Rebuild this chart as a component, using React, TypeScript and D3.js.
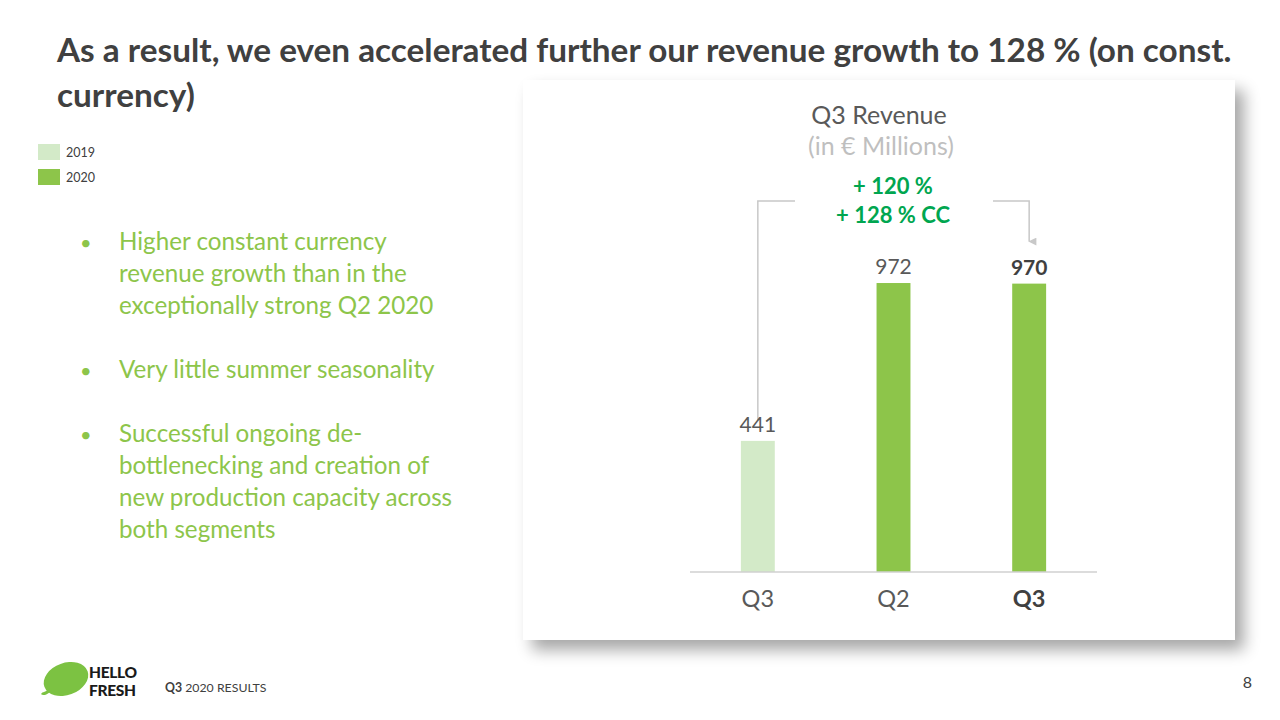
import React from "react";
import * as d3 from "d3";

const categories = ["Q3", "Q2", "Q3 "];
const years = ["2019", "2020", "2020"];
const values = [441, 972, 970];
const legendItems = ["2019", "2020"];
const bullets = [
  ["Higher constant currency", "revenue growth than in the", "exceptionally strong Q2 2020"],
  ["Very little summer seasonality"],
  ["Successful ongoing de-", "bottlenecking and creation of", "new production capacity across", "both segments"],
];
const growth = ["+ 120 %", "+ 128 % CC"];

const FONT = "Lato, 'Open Sans', sans-serif";
const colorFor: Record<string, string> = { "2019": "#d3eac8", "2020": "#8dc54a" };

export default function App() {
  const W = 1280, H = 720;
  const x = d3.scaleBand<string>().domain(categories).range([690, 1097]).paddingInner(0.75).paddingOuter(0.375);
  const y = d3.scaleLinear().domain([0, 1000]).range([572, 274.7]);
  const cx = (c: string) => (x(c) as number) + x.bandwidth() / 2;

  let ly = 250;
  const bulletLines: { text: string; y: number; bullet: boolean }[] = [];
  bullets.forEach((b) => {
    b.forEach((t, i) => {
      bulletLines.push({ text: t, y: ly, bullet: i === 0 });
      ly += 32;
    });
    ly += 32;
  });

  const bx1 = cx(categories[0]);
  const bx3 = cx(categories[2]);
  const bracketY = 201;

  return (
    <svg width={W} height={H} style={{ position: "absolute", left: 0, top: 0, background: "#fff" }} fontFamily={FONT}>
      <defs>
        <filter id="sh" x="-10%" y="-10%" width="130%" height="130%">
          <feGaussianBlur in="SourceAlpha" stdDeviation="8" />
          <feOffset dx="9" dy="10" result="b" />
          <feComponentTransfer><feFuncA type="linear" slope="0.35" /></feComponentTransfer>
          <feMerge><feMergeNode /><feMergeNode in="SourceGraphic" /></feMerge>
        </filter>
        <marker id="arr" viewBox="0 0 10 10" refX="5" refY="9" markerWidth="8" markerHeight="9" orient="auto-start-reverse" markerUnits="userSpaceOnUse">
          <path d="M0,0 L5,10 L10,0 Z" fill="#c8c8c8" />
        </marker>
      </defs>
      <rect width={W} height={H} fill="#fff" />
      {/* Title */}
      <text x={57} y={62} fontSize={33.3} fontWeight={700} fill="#404040">As a result, we even accelerated further our revenue growth to 128 % (on const.</text>
      <text x={57} y={107} fontSize={33.3} fontWeight={700} fill="#404040">currency)</text>

      {/* Legend */}
      {legendItems.map((l, i) => (
        <g key={l}>
          <rect x={38} y={144 + i * 25} width={22} height={16} fill={colorFor[l]} />
          <text x={66} y={157 + i * 25} fontSize={12.5} fill="#404040">{l}</text>
        </g>
      ))}

      {/* Bullets */}
      {bulletLines.map((b, i) => (
        <g key={i}>
          {b.bullet && <text x={80} y={b.y} fontSize={20} fill="#8dc54a">•</text>}
          <text x={119} y={b.y} fontSize={24.2} fill="#8dc54a">{b.text}</text>
        </g>
      ))}

      {/* Panel */}
      <rect x={523} y={80} width={712} height={560} fill="#fff" filter="url(#sh)" />

      <text x={879} y={124} fontSize={25} textAnchor="middle" fill="#595959">Q3 Revenue</text>
      <text x={881} y={155} fontSize={25} textAnchor="middle" fill="#bfbfbf">(in € Millions)</text>
      <text x={893} y={194} fontSize={22} fontWeight={700} textAnchor="middle" fill="#00a650">{growth[0]}</text>
      <text x={893} y={223} fontSize={22} fontWeight={700} textAnchor="middle" fill="#00a650">{growth[1]}</text>

      {/* Bracket */}
      <path d={`M${bx1},${y(values[0]) - 20} V${bracketY} H795`} fill="none" stroke="#c8c8c8" strokeWidth={1.5} />
      <path d={`M993,${bracketY} H${bx3} V${y(values[2]) - 42}`} fill="none" stroke="#c8c8c8" strokeWidth={1.5} markerEnd="url(#arr)" />

      {/* Bars */}
      {categories.map((c, i) => (
        <rect key={c} x={x(c)} y={y(values[i])} width={x.bandwidth()} height={y(0) - y(values[i])} fill={colorFor[years[i]]} />
      ))}
      {categories.map((c, i) => (
        <text key={"v" + c} x={cx(c)} y={y(values[i]) - 9} fontSize={21} textAnchor="middle" fill={i === 2 ? "#404040" : "#595959"} fontWeight={i === 2 ? 700 : 400}>{values[i]}</text>
      ))}
      <line x1={690} x2={1097} y1={y(0)} y2={y(0)} stroke="#d0d0d0" strokeWidth={1.5} />
      {categories.map((c, i) => (
        <text key={"c" + c} x={cx(c)} y={607} fontSize={23.5} textAnchor="middle" fill={i === 2 ? "#404040" : "#595959"} fontWeight={i === 2 ? 700 : 400}>{c.trim()}</text>
      ))}

      {/* Footer */}
      <ellipse cx={66} cy={679} rx={23} ry={16} fill="#7cc242" transform="rotate(-20 66 679)" />
      <path d="M50,690 Q44,695 42,693" stroke="#7cc242" strokeWidth={3} fill="none" />
      <text x={89} y={678} fontSize={15.5} fontWeight={900} fill="#1a1a1a" letterSpacing={-0.3}>HELLO</text>
      <text x={89} y={696} fontSize={15.5} fontWeight={900} fill="#1a1a1a" letterSpacing={-0.3}>FRESH</text>
      <text x={165} y={692} fontSize={12.3} fill="#404040"><tspan fontWeight={700}>Q3</tspan> 2020 RESULTS</text>
      <text x={1252} y={688} fontSize={16} textAnchor="end" fill="#404040">8</text>
    </svg>
  );
}
